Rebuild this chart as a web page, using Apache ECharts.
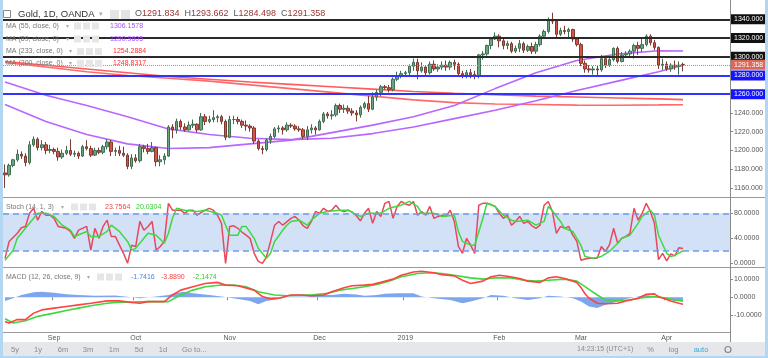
<!DOCTYPE html>
<html><head><meta charset="utf-8">
<script src="https://cdn.jsdelivr.net/npm/echarts@6/dist/echarts.min.js"></script>
<style>html,body{margin:0;padding:0;background:#fff}#c{width:768px;height:358px}</style>
</head><body><div id="c"></div>
<script>
// ---------- DATA ----------
// daily bars (weekdays) starting 2018-08-16; total slots incl. empty future space
const firstDay = [2018, 7, 16];
const totalSlots = 178;
const monthLabelDates = ['2018-09-03','2018-10-01','2018-11-01','2018-12-03','2019-01-01','2019-02-01','2019-03-01','2019-04-01'];
const monthLabelTexts = ['Sep','Oct','Nov','Dec','2019','Feb','Mar','Apr'];
const priceTicks = [1160,1180,1200,1220,1240];
const stochTicks = [0,40,80];
const macdTicks = [-10,0,10];
// [open, high, low, close]
const ohlc = [
[1176,1185,1160,1174],[1174,1186,1172,1184],[1184,1191,1182,1190],[1190,1201,1188,1196],[1196,1199,1191,1194],[1194,1197,1183,1187],[1187,1210,1185,1206],[1206,1215,1204,1212],[1212,1214,1200,1203],[1203,1211,1200,1206],[1206,1209,1196,1200],[1200,1206,1197,1201],
[1201,1203,1196,1199],[1199,1203,1189,1193],[1193,1201,1191,1197],[1197,1205,1195,1200],[1200,1212,1194,1196],[1196,1200,1193,1197],[1197,1199,1191,1194],[1194,1206,1193,1204],[1204,1211,1200,1202],[1202,1205,1193,1195],[1195,1203,1194,1200],[1200,1203,1196,1198],[1198,1206,1196,1204],[1204,1212,1201,1209],[1209,1211,1194,1199],[1199,1203,1194,1200],[1200,1205,1194,1197],[1197,1204,1193,1195],[1195,1197,1180,1183],[1183,1196,1180,1192],
[1192,1196,1187,1189],[1189,1207,1187,1204],[1204,1206,1198,1202],[1202,1207,1196,1199],[1199,1209,1198,1203],[1203,1204,1183,1188],[1188,1195,1183,1190],[1190,1197,1185,1194],[1194,1227,1193,1225],[1225,1228,1213,1222],[1222,1234,1218,1231],[1231,1233,1222,1225],[1225,1229,1220,1222],[1222,1231,1221,1227],[1227,1233,1224,1228],[1228,1229,1219,1222],[1222,1240,1221,1236],[1236,1239,1227,1231],[1231,1237,1229,1233],[1233,1243,1230,1235],[1235,1238,1230,1236],[1236,1238,1228,1231],[1231,1233,1211,1214],
[1214,1237,1213,1233],[1233,1237,1228,1233],[1233,1236,1228,1231],[1231,1233,1224,1227],[1227,1232,1221,1226],[1226,1228,1220,1224],[1224,1226,1207,1210],[1210,1212,1200,1202],[1202,1205,1196,1201],[1201,1213,1199,1211],[1211,1218,1207,1215],[1215,1225,1213,1223],[1223,1227,1219,1224],[1224,1226,1217,1222],[1222,1230,1220,1227],[1227,1229,1224,1226],[1226,1228,1221,1223],[1223,1226,1220,1222],[1222,1224,1212,1215],[1215,1226,1211,1222],[1222,1228,1218,1224],[1224,1226,1217,1222],
[1222,1233,1221,1231],[1231,1241,1229,1239],[1239,1241,1234,1237],[1237,1243,1233,1238],[1238,1250,1236,1248],[1248,1250,1240,1244],[1244,1249,1240,1245],[1245,1248,1239,1242],[1242,1245,1237,1240],[1240,1243,1231,1238],[1238,1248,1235,1246],[1246,1252,1244,1250],[1250,1258,1241,1244],[1244,1262,1243,1257],[1257,1265,1253,1262],[1262,1270,1258,1268],[1268,1270,1265,1267],[1267,1270,1262,1265],[1265,1278,1263,1276],[1276,1284,1274,1280],[1280,1285,1277,1282],
[1282,1285,1280,1283],[1283,1292,1280,1290],[1290,1298,1285,1294],[1294,1298,1276,1285],[1285,1294,1283,1289],[1289,1291,1279,1283],[1283,1295,1281,1292],[1292,1296,1285,1287],[1287,1292,1284,1289],[1289,1295,1286,1291],[1291,1296,1285,1289],[1289,1296,1286,1294],[1294,1297,1286,1292],[1292,1294,1280,1282],[1282,1285,1277,1280],[1280,1286,1277,1283],[1283,1287,1277,1281],[1281,1285,1276,1279],[1279,1303,1277,1302],[1302,1306,1297,1303],[1303,1313,1301,1312],[1312,1321,1308,1319],[1319,1326,1318,1322],
[1322,1324,1310,1317],[1317,1319,1308,1312],[1312,1317,1308,1314],[1314,1316,1304,1306],[1306,1312,1304,1309],[1309,1318,1305,1314],[1314,1316,1304,1307],[1307,1313,1305,1311],[1311,1315,1303,1306],[1306,1316,1303,1313],[1313,1324,1311,1322],[1322,1329,1320,1327],[1327,1342,1325,1340],[1340,1347,1335,1338],[1338,1340,1320,1324],[1324,1331,1322,1328],[1328,1333,1324,1327],[1327,1331,1319,1329],[1329,1330,1316,1319],[1319,1321,1311,1313],
[1313,1315,1290,1293],[1293,1296,1283,1287],[1287,1291,1283,1286],[1286,1290,1281,1287],[1287,1291,1280,1286],[1286,1302,1284,1298],[1298,1300,1288,1291],[1291,1299,1289,1297],[1297,1310,1295,1309],[1309,1311,1293,1295],[1295,1305,1294,1302],[1302,1306,1299,1303],[1303,1308,1300,1306],[1306,1314,1298,1312],[1312,1316,1302,1309],[1309,1320,1305,1313],[1313,1324,1311,1322],[1322,1324,1312,1315],[1315,1318,1307,1310],[1310,1311,1287,1291],[1291,1298,1286,1292],
[1292,1295,1285,1287],[1287,1293,1284,1291],[1291,1296,1286,1290],[1290,1295,1281,1291],[1291.834,1293.662,1284.498,1291.358]
];
// moving averages: [barIndex, value]
const ma55 = [[0,1249],[10,1231],[20,1217],[30,1207],[40,1202],[50,1203],[60,1207],[70,1211],[80,1219],[90,1227],[100,1236],[110,1248],[120,1266],[130,1283],[140,1296],[150,1303],[160,1306.5],[166,1306.1578]];
const ma89 = [[0,1273],[10,1259],[20,1248],[30,1236],[40,1223],[50,1217],[60,1213],[70,1211.5],[80,1213],[90,1218],[100,1225],[110,1234],[120,1243],[130,1253],[140,1264],[150,1274],[160,1284],[166,1290.9605]];
const ma233 = [[0,1295],[10,1291],[20,1287],[30,1283],[40,1279],[50,1276],[60,1273],[70,1270.5],[80,1268],[90,1265.5],[100,1263],[110,1261],[120,1259.5],[130,1258],[140,1257],[150,1256],[160,1255],[166,1254.2884]];
const ma200 = [[0,1294],[10,1289],[20,1284],[30,1280],[40,1277],[50,1274],[60,1270],[70,1266],[80,1262],[90,1258],[100,1254],[110,1251],[120,1249.5],[130,1249],[140,1248.4],[150,1248.3],[160,1248.6],[166,1248.8317]];
// stochastic %K and %D
const stochK = [[0,8],[1,35],[3,48],[4,57],[5,59],[6,80],[7,88],[8,69],[9,83],[10,77],[11,77],[12,72],[13,59],[15,56],[16,51],[17,40],[18,53],[20,59],[21,21],[22,56],[23,40],[24,59],[25,69],[26,43],[27,43],[29,16],[30,0],[31,29],[32,27],[33,67],[34,53],[35,59],[36,67],[37,21],[38,27],[39,35],[40,96],[41,85],[42,85],[43,85],[44,80],[45,85],[46,85],[47,77],[49,85],[50,88],[51,85],[52,77],[53,64],[54,0],[55,59],[56,60],[57,56],[58,50],[59,45],[60,40],[61,16],[62,3],[63,0],[64,10],[65,35],[66,61],[67,67],[68,61],[70,72],[71,75],[72,69],[73,60],[74,56],[75,67],[76,83],[77,80],[78,88],[79,83],[80,85],[81,93],[82,85],[83,83],[84,85],[85,82],[86,76],[87,68],[88,80],[89,88],[90,64],[91,83],[92,75],[93,96],[94,99],[95,72],[96,91],[97,99],[98,95],[99,93],[100,99],[101,77],[102,83],[103,77],[104,91],[105,72],[106,75],[107,77],[108,75],[109,85],[110,67],[111,27],[112,16],[113,40],[114,29],[115,16],[116,93],[117,96],[118,96],[119,94],[120,91],[121,80],[122,72],[123,77],[124,61],[125,67],[126,75],[127,64],[128,67],[129,60],[130,56],[131,61],[132,93],[133,99],[134,83],[135,48],[136,59],[137,56],[138,59],[139,45],[140,35],[141,5],[142,7],[143,8],[144,8],[145,8],[146,27],[147,19],[148,30],[149,56],[150,32],[151,40],[152,43],[153,48],[154,88],[155,69],[156,80],[157,96],[158,83],[159,64],[160,6],[161,16],[162,4],[163,15],[164,12],[165,25],[166,23.7564]];
const stochD = [[0,5],[2,21],[3,40],[5,56],[7,72],[8,80],[10,80],[12,75],[14,61],[16,53],[17,43],[20,51],[21,43],[23,43],[25,51],[26,61],[28,51],[30,35],[31,21],[32,24],[34,40],[35,48],[37,45],[39,32],[40,48],[41,72],[42,88],[44,85],[47,83],[49,85],[52,80],[53,77],[54,61],[55,45],[57,45],[58,59],[59,59],[61,40],[62,24],[64,8],[65,16],[66,35],[68,53],[69,61],[70,67],[72,69],[74,61],[75,69],[77,80],[79,83],[82,85],[84,85],[86,78],[87,75],[89,80],[92,80],[94,88],[97,93],[99,99],[101,91],[102,80],[105,80],[107,75],[110,77],[111,51],[112,35],[114,29],[115,29],[117,72],[118,96],[120,91],[122,77],[124,69],[125,67],[128,69],[130,61],[132,67],[133,91],[134,84],[136,67],[137,56],[139,51],[141,29],[142,11],[144,8],[146,11],[148,19],[150,32],[151,40],[153,45],[155,64],[156,75],[158,85],[159,77],[160,45],[162,16],[163,11],[164,13],[166,20.0304]];
// MACD (12,26,9)
const macdLine = [[0,-13.4],[1,-14.3],[3,-12.4],[5,-12.4],[7,-8.8],[9,-7],[12,-6],[15,-5.1],[18,-4.2],[21,-3.3],[25,-2],[28,-2],[31,-2.9],[33,-3.3],[35,-2.4],[39,-2.4],[41,1.3],[43,4],[46,5.9],[49,7.7],[52,8.3],[54,6.8],[57,6.4],[61,4],[63,0.4],[65,-0.9],[67,-0.5],[70,1.3],[72,1.3],[75,0.9],[78,1.3],[80,3.1],[83,5.3],[85,6.4],[88,6.8],[90,7.2],[92,8.3],[95,10.1],[97,12.3],[100,14.1],[102,14.5],[105,13.7],[107,12.6],[110,11.9],[112,9.5],[114,7.7],[117,9],[119,11.4],[121,12.3],[123,11.7],[126,10.5],[128,9],[131,8.3],[133,10.8],[135,11.4],[137,10.5],[140,8.3],[141,5.5],[142,2],[143,-0.5],[145,-3.3],[147,-3.6],[150,-3.3],[152,-2],[155,-0.5],[157,1.7],[159,1.9],[160,0.4],[163,-2],[165,-3.3],[166,-3.889]];
const signalLine = [[0,-11.9],[2,-14.3],[5,-13],[8,-10.6],[12,-8.8],[15,-7.3],[18,-6],[21,-4.7],[25,-3.3],[28,-2.7],[31,-2.7],[35,-2.4],[38,-2.4],[40,-2.4],[43,1.3],[46,4],[49,5.9],[53,6.8],[56,6.8],[59,5.9],[62,3.1],[66,1.3],[69,0.9],[72,1.3],[75,1.3],[79,2.2],[82,4],[85,4.9],[88,5.9],[91,7.2],[94,9],[97,11.4],[101,13.2],[104,13.7],[107,13.2],[110,12.3],[114,10.8],[117,10.1],[120,10.8],[124,10.8],[127,9.5],[130,9],[133,9.5],[137,10.1],[140,9],[142,5.9],[145,1.3],[147,-1.5],[150,-2],[153,-1.5],[156,-0.2],[159,0.4],[162,-0.5],[164,-1.5],[166,-2.1474]];
const histogram = [[0,-2],[2,-0.5],[4,1.3],[7,2.8],[9,3.1],[12,2.6],[15,1.7],[18,1.3],[22,0.9],[27,1],[31,0],[33,-0.5],[37,0.4],[40,1.3],[42,2.5],[44,3.1],[46,2.2],[50,1.3],[53,0.4],[57,-0.9],[60,-2],[62,-3.8],[64,-2],[67,-0.9],[70,0.4],[74,0.4],[77,1.3],[80,1.3],[83,2],[86,1.5],[88,0.8],[91,1.3],[93,2],[96,2.2],[100,2.2],[102,0.4],[105,-0.5],[109,-1.5],[112,-3.3],[114,-2.4],[117,-0.5],[119,1.3],[122,0.9],[125,-0.5],[128,-1.5],[131,-0.5],[133,0.9],[136,0.4],[139,-0.5],[141,-2.4],[143,-5.1],[145,-6],[147,-4.2],[150,-2.4],[152,-0.9],[155,0.4],[157,1.3],[159,0.4],[162,-0.9],[164,-2],[166,-1.7416]];
const levelsBlack = [1340,1320,1300];
const levelsBlue = [1280,1260];
const lastPrice = 1291.358;

// ---------- BUILD ----------
const categories = [];
(function(){
  const d = new Date(Date.UTC(firstDay[0], firstDay[1], firstDay[2]));
  while (categories.length < totalSlots) {
    const wd = d.getUTCDay();
    if (wd !== 0 && wd !== 6) categories.push(d.toISOString().slice(0,10));
    d.setUTCDate(d.getUTCDate() + 1);
  }
})();
const candleData = ohlc.map(r => [r[0], r[3], r[2], r[1]]);
const FONT = '"Liberation Sans", Arial, sans-serif';
const isMonth = (i, v) => monthLabelDates.indexOf(v) >= 0;

function xAx(i){
  return {
    type:'category', gridIndex:i, data:categories, boundaryGap:true,
    axisLine:{show:false},
    axisTick:{show:i===2, interval:isMonth, length:3, lineStyle:{color:'#888'}},
    axisLabel:{show:i===2, interval:isMonth, formatter:v=>monthLabelTexts[monthLabelDates.indexOf(v)],
      fontSize:7, color:'#555', margin:3, fontFamily:FONT},
    splitLine:{show:false}
  };
}
function yAx(i, min, max, ticks, dec){
  return {
    type:'value', gridIndex:i, position:'right', min:min, max:max,
    splitLine:{show:false}, axisLine:{show:false},
    axisTick:{show:true, length:3, customValues:ticks, lineStyle:{color:'#888'}},
    axisLabel:{customValues:ticks, formatter:v=>Number(v).toFixed(dec), fontSize:7, color:'#555', margin:4, fontFamily:FONT}
  };
}
function lvl(v, lineColor, bg, type, w){
  return {yAxis:v, lineStyle:{color:lineColor, width:w, type:type},
    label:{show:true, position:'end', distance:1, formatter:()=>v.toFixed(3), color:'#fff',
      backgroundColor:bg, padding:[1,2,1,3], fontSize:7, lineHeight:8, fontFamily:FONT}};
}
function maLine(data, color){
  return {type:'line', xAxisIndex:0, yAxisIndex:0, data:data, symbol:'none', smooth:false,
    lineStyle:{color:color, width:1.6}, z:2, silent:true};
}

const lvlData = [];
levelsBlack.forEach(v => lvlData.push(lvl(v, '#2a2a2a', '#111111', 'solid', 2)));
levelsBlue.forEach(v => lvlData.push(lvl(v, '#3333ff', '#1414ff', 'solid', 2)));
lvlData.push(lvl(lastPrice, '#e8776c', '#dd6655', 'dotted', 1));

const G = [];
function txt(x, y, text, fill, size, align){
  G.push({type:'text', silent:true, z:100,
    style:{x:x, y:y, text:text, fill:fill, font:size+'px '+FONT, verticalAlign:'middle', textVerticalAlign:'middle',
      align:align||'left', textAlign:align||'left'}});
}
function box(x, y, w, h, fill, stroke){
  G.push({type:'rect', silent:true, z:99, shape:{x:x, y:y, width:w, height:h},
    style:{fill:fill, stroke:stroke||null, lineWidth:1}});
}
function ln(x1,y1,x2,y2,color,w){
  G.push({type:'line', silent:true, z:98, shape:{x1:x1,y1:y1,x2:x2,y2:y2}, style:{stroke:color, lineWidth:w||1}});
}
// pane separators and right axis line
ln(3, 197.5, 766, 197.5, '#9a9a9a');
ln(3, 267.5, 766, 267.5, '#9a9a9a');
ln(3, 332.5, 730.5, 332.5, '#9a9a9a');
ln(730.5, 0, 730.5, 342, '#8a8a8a');
// window frame
box(0, 0, 3, 358, '#b3d7f2');
box(765, 0, 3, 358, '#b3d7f2');
box(0, 356, 768, 2, '#b3d7f2');
// header
box(3.5, 10.5, 7, 7, '#fff', '#888'); ln(5, 14, 9, 14, '#888');
txt(18, 14, 'Gold, 1D, OANDA', '#333', 9.5);
txt(99, 14, '▾', '#aaa', 7);
box(110, 10, 9, 9, '#e4e4e4'); box(121, 10, 9, 9, '#e4e4e4');
G.push({type:'text', silent:true, z:100, style:{x:135, y:14, verticalAlign:'middle', textVerticalAlign:'middle',
  text:'{l|O}{v|1291.834}  {l|H}{v|1293.662}  {l|L}{v|1284.498}  {l|C}{v|1291.358}',
  font:'9px '+FONT,
  rich:{l:{fill:'#555', font:'9px '+FONT}, v:{fill:'#9b3232', font:'9px '+FONT}}}});
const maRows = [['MA (55, close, 0)','1306.1578','#a64dff',26,110],['MA (89, close, 0)','1290.9605','#a64dff',39,110],
  ['MA (233, close, 0)','1254.2884','#ff2e2e',51.5,113],['MA (200, close, 0)','1248.8317','#ff2e2e',63.5,113]];
maRows.forEach(r => {
  txt(6, r[3], r[0], '#777', 7);
  const ax = r[0].length > 17 ? 69 : 66;
  txt(ax, r[3], '▾', '#aaa', 6);
  box(ax+8, r[3]-3.5, 7, 7, '#e6e6e6'); box(ax+17, r[3]-3.5, 7, 7, '#e6e6e6'); box(ax+26, r[3]-3.5, 7, 7, '#e6e6e6');
  txt(r[4], r[3], r[1], r[2], 7);
});
// stoch legend
txt(6, 207, 'Stoch (14, 1, 3)', '#777', 7);
txt(61, 207, '▾', '#aaa', 6);
box(71, 203.5, 7, 7, '#e6e6e6'); box(80, 203.5, 7, 7, '#e6e6e6'); box(89, 203.5, 7, 7, '#e6e6e6');
txt(105, 207, '23.7564', '#ff3d3d', 7);
txt(136, 207, '20.0304', '#2fcf2f', 7);
// macd legend
txt(6, 277, 'MACD (12, 26, close, 9)', '#777', 7);
txt(87, 277, '▾', '#aaa', 6);
box(97, 273.5, 7, 7, '#e6e6e6'); box(106, 273.5, 7, 7, '#e6e6e6'); box(115, 273.5, 7, 7, '#e6e6e6');
txt(131, 277, '-1.7416', '#4a7fe0', 7);
txt(161, 277, '-3.8890', '#ff3d3d', 7);
txt(193, 277, '-2.1474', '#2fcf2f', 7);
// bottom toolbar
box(3, 342, 762, 14, '#e5e7ea');
const tb = [['5y',15],['1y',38],['6m',63],['3m',88],['1m',114],['5d',139],['1d',163]];
tb.forEach(t => txt(t[1], 349.5, t[0], '#8a8a8a', 7.5, 'center'));
[27,51,76,101,127,152,174,640,661,686,715,740].forEach(x => ln(x+0.5, 345, x+0.5, 354, '#c4c4c4'));
txt(182, 349.5, 'Go to...', '#8a8a8a', 7.5);
txt(577, 349.5, '14:23:15 (UTC+1)', '#8a8a8a', 7);
txt(650.5, 349.5, '%', '#8a8a8a', 7.5, 'center');
txt(673.5, 349.5, 'log', '#8a8a8a', 7.5, 'center');
txt(701, 349.5, 'auto', '#3aa8dc', 7.5, 'center');
G.push({type:'circle', silent:true, z:100, shape:{cx:728, cy:349.5, r:3}, style:{fill:'none', stroke:'#888', lineWidth:1.2}});
ln(748,345.5,750.5,348,'#3aa8dc',1.2); ln(756,345.5,753.5,348,'#3aa8dc',1.2);
ln(748,353.5,750.5,351,'#3aa8dc',1.2); ln(756,353.5,753.5,351,'#3aa8dc',1.2);

const option = {
  animation:false,
  backgroundColor:'#ffffff',
  textStyle:{fontFamily:FONT},
  grid:[
    {left:3, right:38, top:3, height:194},
    {left:3, right:38, top:198, height:69},
    {left:3, right:38, top:268, height:64}
  ],
  xAxis:[xAx(0), xAx(1), xAx(2)],
  yAxis:[
    yAx(0, 1150.3, 1357.4, priceTicks, 3),
    yAx(1, -5.9, 104.5, stochTicks, 4),
    yAx(2, -19.3, 16.3, macdTicks, 4)
  ],
  series:[
    maLine(ma233, '#ff5c5c'),
    maLine(ma200, '#ff6b6b'),
    maLine(ma89, '#b866ff'),
    maLine(ma55, '#b866ff'),
    {type:'candlestick', xAxisIndex:0, yAxisIndex:0, data:candleData, barWidth:3, z:3,
      itemStyle:{color:'#6ba583', color0:'#d75442', borderColor:'#3f6e52', borderColor0:'#7c3a31', borderWidth:1},
      markLine:{symbol:['none','none'], silent:true, animation:false, data:lvlData}},
    {type:'line', xAxisIndex:1, yAxisIndex:1, data:stochK, symbol:'none', lineStyle:{color:'#e8485c', width:1.5}, z:3,
      markArea:{silent:true, itemStyle:{color:'#d3e1f7'}, data:[[{yAxis:20},{yAxis:80}]]},
      markLine:{symbol:['none','none'], silent:true, label:{show:false},
        lineStyle:{color:'#6f9ae6', type:[6,4], width:1.5}, data:[{yAxis:80},{yAxis:20}]}},
    {type:'line', xAxisIndex:1, yAxisIndex:1, data:stochD, symbol:'none', lineStyle:{color:'#3fd83f', width:1.5}, z:3},
    {type:'line', xAxisIndex:2, yAxisIndex:2, data:histogram, symbol:'none', lineStyle:{width:0},
      areaStyle:{color:'#7ea6ee', opacity:1}, z:2},
    {type:'line', xAxisIndex:2, yAxisIndex:2, data:signalLine, symbol:'none', lineStyle:{color:'#3fd83f', width:1.6}, z:3},
    {type:'line', xAxisIndex:2, yAxisIndex:2, data:macdLine, symbol:'none', lineStyle:{color:'#ff4242', width:1.6}, z:4}
  ],
  graphic:{elements:G}
};
const chart = echarts.init(document.getElementById('c'));
chart.setOption(option);
</script>
</body></html>
